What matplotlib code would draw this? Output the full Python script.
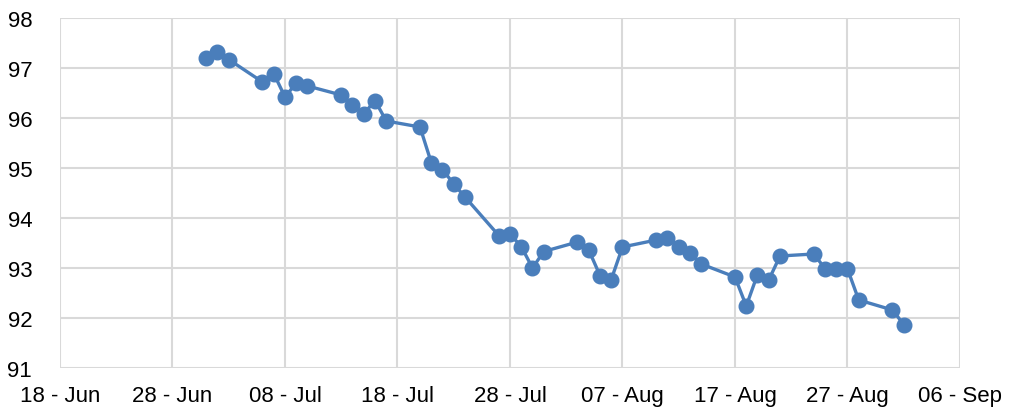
import matplotlib
matplotlib.use("Agg")
import matplotlib.pyplot as plt
import matplotlib.dates as mdates
import numpy as np
from datetime import date

plt.rcParams['font.family'] = ['Liberation Sans', 'DejaVu Sans']

# dates (month, day) and values
days = [(7, 1), (7, 2), (7, 3), (7, 6), (7, 7), (7, 8), (7, 9), (7, 10),
        (7, 13), (7, 14), (7, 15), (7, 16), (7, 17), (7, 20), (7, 21), (7, 22),
        (7, 23), (7, 24), (7, 27), (7, 28), (7, 29), (7, 30), (7, 31),
        (8, 3), (8, 4), (8, 5), (8, 6), (8, 7), (8, 10), (8, 11), (8, 12),
        (8, 13), (8, 14), (8, 17), (8, 18), (8, 19), (8, 20), (8, 21),
        (8, 24), (8, 25), (8, 26), (8, 27), (8, 28), (8, 31), (9, 1)]
values = [97.20, 97.33, 97.17, 96.72, 96.89, 96.42, 96.70, 96.64,
          96.46, 96.26, 96.08, 96.35, 95.94, 95.82, 95.11, 94.97,
          94.68, 94.42, 93.65, 93.68, 93.43, 93.00, 93.33,
          93.52, 93.36, 92.85, 92.77, 93.42, 93.56, 93.61, 93.43,
          93.30, 93.08, 92.82, 92.24, 92.87, 92.76, 93.24,
          93.28, 92.99, 92.99, 92.98, 92.36, 92.16, 91.87]

x = [date(2020, m, d) for m, d in days]

fig = plt.figure(figsize=(10.1, 4.14), dpi=100)
ax = fig.add_axes([60 / 1010, 45 / 414, 900 / 1010, 350 / 414])

color = '#4a7ebb'
ax.plot(x, values, color=color, lw=2.4, marker='o', ms=10.5, zorder=3)

ax.set_xlim(date(2020, 6, 18), date(2020, 9, 6))
ax.set_ylim(91, 98)
ax.xaxis.set_major_locator(mdates.DayLocator(bymonthday=None, interval=10))
ticks = [date(2020, 6, 18) + (date(2020, 6, 28) - date(2020, 6, 18)) * i for i in range(9)]
ax.set_xticks(ticks)
ax.xaxis.set_major_formatter(mdates.DateFormatter('%d - %b'))
ax.set_yticks(np.arange(91, 99, 1))

ax.grid(True, color='#d9d9d9', lw=1.5)
ax.set_axisbelow(True)
for s in ax.spines.values():
    s.set_visible(False)
ax.tick_params(length=0, labelsize=16, colors='black')
ax.tick_params(axis='y', pad=20)
ax.tick_params(axis='x', pad=12)

fig.savefig('out.png', dpi=100)
